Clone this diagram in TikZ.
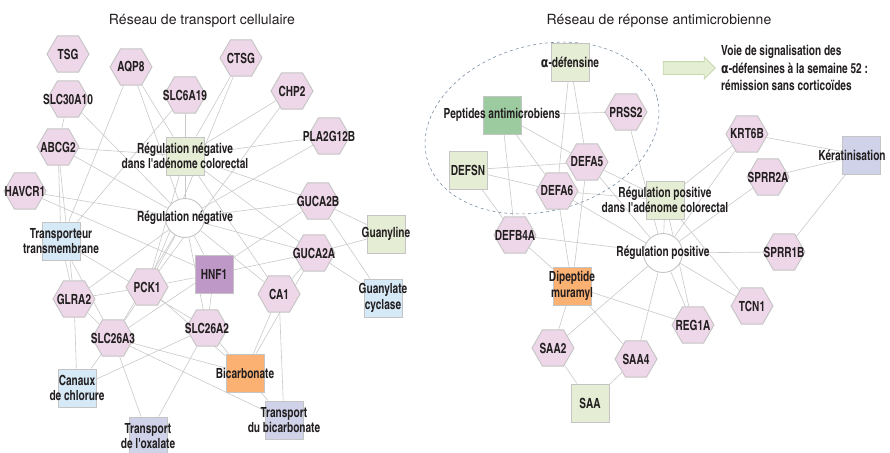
\documentclass[tikz,border=0pt]{standalone}
\usepackage{fontspec}
\setmainfont{TeX Gyre Heros}
\newfontfamily\condfont{texgyreheroscn}[Extension=.otf, UprightFont=*-bold, FakeStretch=0.88]
\newfontfamily\greekfont{DejaVu Sans Condensed Bold}[FakeStretch=0.88]
\usepackage{tikz}
\usetikzlibrary{shapes.geometric, shapes.arrows, backgrounds}
\usepackage{xcolor}
\definecolor{hexpink}{HTML}{EDD7E8}
\definecolor{sqgreen}{HTML}{E5EED5}
\definecolor{sqblue}{HTML}{D5E9F7}
\definecolor{sqpurple}{HTML}{BE99C8}
\definecolor{sqorange}{HTML}{FBB172}
\definecolor{sqlav}{HTML}{CFD2E9}
\definecolor{sqdark}{HTML}{9DCBA0}
\definecolor{linegray}{HTML}{C9C9C9}
\definecolor{bordergray}{HTML}{C4C4C4}
\definecolor{ellblue}{HTML}{7B8FA3}
\definecolor{textdark}{HTML}{231F20}
\definecolor{arrowgreen}{HTML}{E3EED3}
\definecolor{arrowborder}{HTML}{C8D8AE}

\tikzset{
  lbl/.style={font=\condfont\fontsize{14}{15.5}\selectfont, text=textdark, align=center, inner sep=0pt},
  hex/.style={regular polygon, regular polygon sides=6, minimum size=42pt, inner sep=0pt,
    fill=hexpink, draw=bordergray, line width=0.9pt, label={[lbl]center:{#1}}},
  sq/.style={rectangle, minimum size=38pt, inner sep=0pt, draw=bordergray, line width=0.9pt,
    label={[lbl]center:{#1}}},
  hub/.style={circle, minimum size=39pt, inner sep=0pt, fill=white, draw=bordergray,
    line width=0.9pt, label={[lbl]center:{#1}}},
  edge/.style={draw=linegray, line width=0.6pt},
  titre/.style={font=\fontsize{14}{16}\selectfont, text=textdark},
}

\begin{document}
\begin{tikzpicture}[x=1pt, y=1pt]
  \useasboundingbox (0,0) rectangle (890,-452);
  % Titres
  \node[titre] (titreg) at (202,-21) {Réseau de transport cellulaire};
  \node[titre] (titred) at (659,-21) {Réseau de réponse antimicrobienne};

  % Reseau gauche
  \node[hex=TSG] (tsg) at (68,-54) {};
  \node[hex=AQP8] (aqp) at (131,-67) {};
  \node[hex=CTSG] (ctsg) at (241,-58) {};
  \node[hex=SLC6A19] (slcsix) at (185,-95) {};
  \node[hex=CHP2] (chp) at (292,-91) {};
  \node[hex=SLC30A10] (slcthirty) at (68,-99) {};
  \node[hex=PLA2G12B] (pla) at (329,-136) {};
  \node[hex=ABCG2] (abcg) at (58,-147) {};
  \node[hex=HAVCR1] (havcr) at (25,-191) {};
  \node[sq={Régulation négative\\dans l'adénome colorectal}, fill=sqgreen] (rna) at (185,-156) {};
  \node[hub={Régulation négative}] (rn) at (185,-218) {};
  \node[hex=GUCA2B] (gucab) at (318,-201) {};
  \node[hex=GUCA2A] (gucaa) at (314,-253) {};
  \node[sq=Guanyline, fill=sqgreen] (guanyline) at (386,-234) {};
  \node[sq={Transporteur\\transmembrane}, fill=sqblue] (transmem) at (61,-241) {};
  \node[sq=HNF1, fill=sqpurple] (hnf) at (214,-274) {};
  \node[hex=PCK1] (pck) at (147,-287) {};
  \node[hex=CA1] (caone) at (279,-294) {};
  \node[hex=GLRA2] (glra) at (74,-299) {};
  \node[hex=SLC26A3] (slcathree) at (113,-338) {};
  \node[hex=SLC26A2] (slcatwo) at (207,-328) {};
  \node[sq={Guanylate\\cyclase}, fill=sqblue] (gcyc) at (383,-298) {};
  \node[sq=Bicarbonate, fill=sqorange] (bicarb) at (245,-373) {};
  \node[sq={Canaux\\de chlorure}, fill=sqblue] (canaux) at (77,-388) {};
  \node[sq={Transport\\de l'oxalate}, fill=sqlav] (oxal) at (148,-436) {};
  \node[sq={Transport\\du bicarbonate}, fill=sqlav] (tbicarb) at (284,-420) {};

  % Reseau droit
  \draw[dashed, ellblue, line width=0.6pt, rotate around={15:(542,-128)}]
    (542,-128) ellipse [x radius=119, y radius=83];
  \node[sq={{\greekfont α}-défensine}, fill=sqgreen] (alphadef) at (570,-62) {};
  \node[sq=Peptides antimicrobiens, fill=sqdark] (peptides) at (502,-115) {};
  \node[hex=PRSS2] (prss) at (626,-112) {};
  \node[sq=DEFSN, fill=sqgreen] (defsn) at (468,-170) {};
  \node[hex=DEFA5] (defafive) at (587,-162) {};
  \node[hex=DEFA6] (defasix) at (557,-191) {};
  \node[sq={Régulation positive\\dans l'adénome colorectal}, fill=sqgreen] (rpa) at (665,-200) {};
  \node[hub={Régulation positive}] (rp) at (663,-253) {};
  \node[hex=DEFB4A] (defb) at (515,-235) {};
  \node[sq={Dipeptide\\muramyl}, fill=sqorange] (dipep) at (572,-286) {};
  \node[hex=SAA2] (saatwo) at (553,-348) {};
  \node[hex=SAA4] (saafour) at (636,-359) {};
  \node[sq=SAA, fill=sqgreen] (saa) at (590,-403) {};
  \node[hex=REG1A] (reg) at (693,-325) {};
  \node[hex=TCN1] (tcn) at (752,-306) {};
  \node[hex=SPRR1B] (sprrone) at (784,-252) {};
  \node[hex=KRT6B] (krt) at (747,-134) {};
  \node[hex=SPRR2A] (sprrtwo) at (768,-177) {};
  \node[rectangle, minimum size=38pt, inner sep=0pt, draw=bordergray, line width=0.9pt,
    fill=sqlav, label={[lbl, xshift=-9pt]center:Kératinisation}] (kerat) at (861,-155) {};

  % Legende
  \node[single arrow, fill=arrowgreen, draw=arrowborder, line width=0.8pt,
    minimum height=52pt, inner sep=6pt, single arrow head extend=4.5pt] (fleche) at (686,-68) {};
  \node[lbl, align=left, anchor=west, font=\condfont\fontsize{14}{17.5}\selectfont] (legende) at (721,-68)
    {Voie de signalisation des\\{\greekfont α}-défensines à la semaine 52 :\\rémission sans corticoïdes};

  % Liens
  \begin{pgfonlayer}{background}
    \foreach \a/\b in {slcthirty/abcg, slcthirty/rn, aqp/transmem, aqp/rna, aqp/rn,
      slcsix/rna, slcsix/transmem, ctsg/rna, ctsg/pck, chp/rna, chp/pck, pla/rna, pla/rn,
      abcg/rna, abcg/rn, abcg/transmem, abcg/glra, havcr/rn, havcr/hnf, rna/rn,
      rna/gucab, rna/gucaa, rna/caone, rna/pck, rn/gucab, rn/gucaa, rn/hnf, rn/pck,
      rn/caone, rn/slcathree, rn/slcatwo, rn/glra, gucab/guanyline, gucab/gcyc,
      gucab/slcathree, gucaa/guanyline, gucaa/gcyc, gucaa/hnf, gucaa/caone, gucaa/bicarb,
      transmem/glra, transmem/slcathree, transmem/slcatwo, hnf/pck, hnf/slcatwo,
      pck/glra, pck/slcathree, pck/bicarb, glra/slcathree, glra/canaux, slcathree/canaux,
      slcathree/oxal, slcathree/bicarb, slcathree/tbicarb, slcatwo/canaux, slcatwo/oxal,
      slcatwo/bicarb, caone/bicarb, caone/tbicarb, bicarb/tbicarb}
      \draw[edge] (\a) -- (\b);
    \foreach \a/\b in {alphadef/defafive, alphadef/defasix, peptides/prss,
      peptides/defafive, peptides/defasix, peptides/defb, defsn/defafive, defsn/defasix,
      defsn/defb, prss/rp, defafive/rpa, defafive/rp, defafive/dipep, defasix/rpa,
      defasix/rp, defasix/dipep, defb/rp, defb/dipep, rpa/rp, krt/rpa, krt/rp,
      krt/kerat, sprrtwo/rp, sprrtwo/kerat, sprrone/rp, sprrone/kerat, tcn/rp, tcn/rpa,
      reg/rp, reg/rpa, reg/dipep, saafour/rp, saafour/dipep, saafour/saa, saatwo/rp,
      saatwo/dipep, saatwo/saa}
      \draw[edge] (\a) -- (\b);
  \end{pgfonlayer}
\end{tikzpicture}
\end{document}
